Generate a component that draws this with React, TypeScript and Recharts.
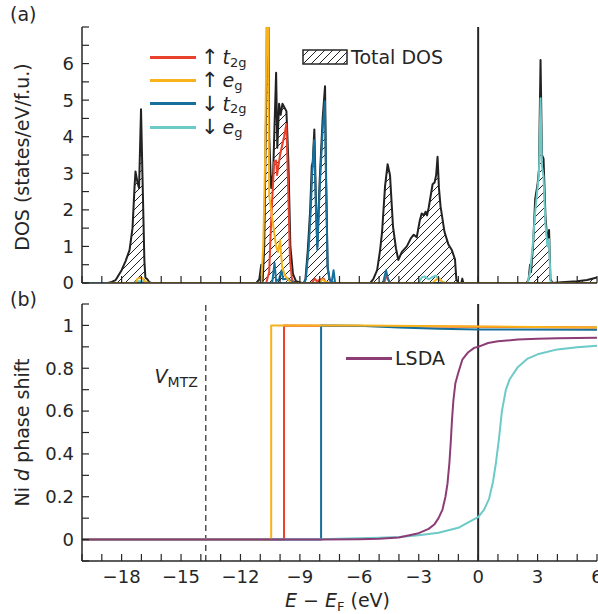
import React from "react";
import {
  ComposedChart,
  Area,
  Line,
  XAxis,
  YAxis,
  ReferenceLine,
  Legend,
} from "recharts";

// 글꼴과 색
const FONT = '"DejaVu Sans", sans-serif';
const INK = "#262626";
const RED = "#e8412c";
const YELLOW = "#f8b31a";
const BLUE = "#17709b";
const CYAN = "#6ccac8";
const PURPLE = "#8c3d76";

// 축 눈금
const E_DOMAIN: [number, number] = [-20, 6];
const eLabels = [-18, -15, -12, -9, -6, -3, 0, 3, 6];
const dosLabels = [0, 1, 2, 3, 4, 5, 6];
const shiftLabels = [0, 0.2, 0.4, 0.6, 0.8, 1];
const vMtz = -13.75;

// (a) DOS: [E - E_F, states/eV/f.u.]
const totalDos = [
  [-20, 0], [-18.7, 0], [-18.5, 0.03], [-18.3, 0.08], [-18.0, 0.35], [-17.8, 0.6],
  [-17.6, 0.9], [-17.45, 1.5], [-17.35, 2.6], [-17.3, 3.05], [-17.2, 2.75], [-17.12, 2.6],
  [-17.02, 4.75], [-16.95, 3.0], [-16.85, 0.6], [-16.8, 0.15], [-16.7, 0.1], [-16.6, 0.02],
  [-16.5, 0], [-11.2, 0], [-11.05, 0.1], [-10.95, 0.5], [-10.88, 0.05], [-10.8, 1.0],
  [-10.7, 5.0], [-10.62, 9.5], [-10.55, 4.0], [-10.45, 2.6], [-10.35, 3.0], [-10.2, 5.75],
  [-10.14, 3.7], [-10.05, 4.9], [-9.97, 4.6], [-9.88, 4.9], [-9.78, 4.8], [-9.68, 4.7],
  [-9.58, 3.3], [-9.48, 1.0], [-9.35, 0.25], [-9.2, 0.05], [-8.9, 0], [-8.8, 0],
  [-8.72, 0.1], [-8.6, 0.9], [-8.48, 2.0], [-8.4, 3.2], [-8.35, 3.3], [-8.27, 4.2],
  [-8.2, 2.5], [-8.12, 1.0], [-8.0, 2.8], [-7.85, 4.5], [-7.73, 5.38], [-7.68, 3.0],
  [-7.6, 0.45], [-7.5, 0.1], [-7.4, 0.02], [-7.2, 0], [-5.45, 0], [-5.3, 0.1],
  [-5.1, 0.35], [-4.95, 0.9], [-4.85, 1.4], [-4.7, 2.65], [-4.57, 3.25], [-4.45, 2.95],
  [-4.3, 1.55], [-4.15, 0.95], [-4.03, 0.63], [-3.85, 0.85], [-3.6, 1.0], [-3.4, 1.22],
  [-3.25, 1.32], [-3.1, 1.25], [-2.95, 1.7], [-2.85, 1.9], [-2.75, 1.85], [-2.65, 1.95],
  [-2.58, 1.85], [-2.5, 2.05], [-2.3, 2.7], [-2.2, 2.75], [-2.12, 2.95], [-2.05, 3.45],
  [-1.98, 2.6], [-1.9, 2.1], [-1.7, 1.4], [-1.5, 1.05], [-1.33, 0.9], [-1.17, 0.65],
  [-1.1, 0.1], [-1.0, 0], [-0.85, 0], [-0.8, 0.12], [-0.75, 0], [2.45, 0],
  [2.55, 0.1], [2.62, 0.5], [2.67, 0.3], [2.78, 1.1], [2.88, 2.3], [3.0, 2.7],
  [3.07, 3.1], [3.15, 6.1], [3.22, 3.5], [3.3, 3.4], [3.4, 1.8], [3.5, 1.1],
  [3.58, 1.45], [3.65, 0.1], [3.75, 0], [4.2, 0.02], [5.0, 0.05], [5.5, 0.08], [6.0, 0.15],
];

const upT2g = [
  [-20, 0], [-10.7, 0], [-10.55, 0.3], [-10.45, 1.7], [-10.3, 3.3], [-10.2, 3.35],
  [-10.15, 2.95], [-10.0, 3.5], [-9.8, 4.0], [-9.68, 4.35], [-9.6, 2.8], [-9.5, 0.65],
  [-9.4, 0.1], [-9.3, 0], [-8.4, 0], [-8.25, 0.12], [-8.15, 0.05], [-7.95, 0.1],
  [-7.8, 0.12], [-7.7, 0.03], [-7.5, 0], [-4.75, 0], [-4.62, 0.2], [-4.5, 0.05],
  [-4.4, 0], [6, 0],
];

const upEg = [
  [-18.7, 0], [-17.3, 0], [-17.2, 0.12], [-17.0, 0.15], [-16.9, 0.1], [-16.8, 0.03],
  [-16.6, 0], [-10.95, 0], [-10.85, 1.0], [-10.75, 3.5], [-10.64, 9.5], [-10.55, 2.4],
  [-10.45, 2.0], [-10.38, 1.7], [-10.2, 1.0], [-10.1, 0.85], [-10.0, 1.17], [-9.9, 0.45],
  [-9.75, 0.2], [-9.6, 0.1], [-9.45, 0], [-8.0, 0], [-7.85, 0.1], [-7.75, 0.05],
  [-7.6, 0], [-2.3, 0], [-2.1, 0.1], [-1.95, 0.12], [-1.8, 0.02], [-1.6, 0], [6, 0],
];

const downT2g = [
  [-20, 0], [-10.4, 0], [-10.28, 0.55], [-10.2, 0.05], [-10.05, 0.1], [-9.92, 0.35],
  [-9.85, 0.1], [-9.6, 0.12], [-9.45, 0.05], [-9.3, 0], [-8.8, 0], [-8.7, 0.1],
  [-8.55, 1.0], [-8.45, 2.0], [-8.38, 3.0], [-8.28, 3.9], [-8.2, 2.2], [-8.12, 0.9],
  [-8.0, 2.6], [-7.85, 4.2], [-7.74, 4.97], [-7.68, 2.8], [-7.6, 0.4], [-7.5, 0.1],
  [-7.4, 0], [-7.3, 0.35], [-7.22, 0], [-4.8, 0], [-4.65, 0.35], [-4.55, 0.1],
  [-4.45, 0], [6, 0],
];

const downEg = [
  [-20, 0], [-17.4, 0], [-17.2, 0.05], [-16.9, 0.05], [-16.7, 0], [-3.0, 0],
  [-2.85, 0.15], [-2.7, 0.18], [-2.5, 0.1], [-2.35, 0.15], [-2.15, 0.2], [-2.0, 0.12],
  [-1.85, 0.05], [-1.7, 0], [2.5, 0], [2.62, 0.3], [2.75, 1.0], [2.88, 1.95],
  [3.0, 2.6], [3.07, 3.0], [3.15, 5.05], [3.22, 3.2], [3.3, 2.9], [3.4, 1.6],
  [3.5, 1.0], [3.58, 1.2], [3.65, 0.05], [3.72, 0], [6, 0],
];

// (b) Ni d 위상 이동 (단위: π)
const upT2gShift = [[-20, 0], [-9.8, 0], [-9.8, 1.0], [6, 0.99]];
const upEgShift = [[-20, 0], [-10.45, 0], [-10.45, 1.0], [-6, 1.0], [0, 0.995], [6, 0.99]];
const downT2gShift = [
  [-20, 0], [-7.93, 0], [-7.93, 1.0], [-6, 0.998], [-4, 0.99], [-2, 0.984],
  [0, 0.981], [6, 0.98],
];
const downEgShift = [
  [-20, 0], [-8, 0.001], [-5, 0.008], [-4, 0.012], [-3, 0.02], [-2, 0.032],
  [-1, 0.055], [-0.5, 0.08], [0, 0.105], [0.3, 0.14], [0.55, 0.19], [0.75, 0.27],
  [0.9, 0.36], [1.05, 0.47], [1.2, 0.6], [1.4, 0.7], [1.6, 0.75], [2.0, 0.805],
  [2.5, 0.845], [3.0, 0.865], [4.0, 0.888], [5.0, 0.898], [6.0, 0.905],
];
const lsdaShift = [
  [-20, 0], [-8, 0], [-6, 0.002], [-5, 0.004], [-4, 0.01], [-3, 0.03],
  [-2.5, 0.05], [-2.2, 0.072], [-2.0, 0.1], [-1.8, 0.14], [-1.65, 0.2], [-1.55, 0.26],
  [-1.45, 0.36], [-1.38, 0.46], [-1.32, 0.56], [-1.25, 0.65], [-1.15, 0.73], [-1.0, 0.78],
  [-0.8, 0.84], [-0.5, 0.875], [-0.2, 0.895], [0, 0.9], [0.5, 0.918], [1, 0.926],
  [2, 0.934], [3, 0.938], [4, 0.94], [5, 0.941], [6, 0.942],
];

const pts = (rows: number[][]) => rows.map(([e, v]) => ({ e, v }));

const eTicks = Array.from({ length: 27 }, (_, i) => i - 20);
const dosTicks = Array.from({ length: 15 }, (_, i) => i / 2);
const shiftTicks = Array.from({ length: 13 }, (_, i) => (i - 1) / 10);

const minus = (v: number) => (v < 0 ? `\u2212${-v}` : `${v}`);
const fmtE = (v: number) => (eLabels.includes(v) ? minus(v) : "");
const fmtDos = (v: number) => (dosLabels.includes(v) ? `${v}` : "");
const fmtShift = (v: number) => (shiftLabels.includes(v) ? `${v}` : "");
const blank = () => "";

const tickStyle = { fontSize: 18, fill: INK, fontFamily: FONT };
const axisLine = { stroke: INK, strokeWidth: 1.5 };
const tickLine = { stroke: INK, strokeWidth: 1.2 };

const frameProps = {
  axisLine,
  tickLine,
  tickSize: -7,
  interval: 0 as const,
  allowDataOverflow: true,
};

const DosTitle = ({ viewBox }: any) => {
  const x = viewBox.x + 29;
  const y = viewBox.y + viewBox.height / 2 + 2;
  return (
    <text x={x} y={y} transform={`rotate(-90, ${x}, ${y})`} textAnchor="middle"
      fontSize={19} fill={INK} fontFamily={FONT}>
      DOS (states/eV/f.u.)
    </text>
  );
};

const ShiftTitle = ({ viewBox }: any) => {
  const x = viewBox.x + 29;
  const y = viewBox.y + viewBox.height / 2;
  return (
    <text x={x} y={y} transform={`rotate(-90, ${x}, ${y})`} textAnchor="middle"
      fontSize={19} fill={INK} fontFamily={FONT}>
      Ni <tspan fontStyle="italic">d</tspan> phase shift
    </text>
  );
};

const EnergyTitle = ({ viewBox }: any) => (
  <text x={viewBox.x + viewBox.width / 2 - 2} y={viewBox.y + 46} textAnchor="middle"
    fontSize={19} fill={INK} fontFamily={FONT}>
    <tspan fontStyle="italic">E</tspan>
    <tspan> − </tspan>
    <tspan fontStyle="italic">E</tspan>
    <tspan fontSize={13} dy={4}>F</tspan>
    <tspan dy={-4}> (eV)</tspan>
  </text>
);

const VmtzLabel = ({ viewBox }: any) => (
  <text x={viewBox.x - 8} y={viewBox.y + 79} textAnchor="end" fontSize={19}
    fill={INK} fontFamily={FONT}>
    <tspan fontStyle="italic">V</tspan>
    <tspan fontSize={14} dy={4}>MTZ</tspan>
  </text>
);

const legendRows = [
  { color: RED, arrow: "↑", sym: "t", sub: "2g" },
  { color: YELLOW, arrow: "↑", sym: "e", sub: "g" },
  { color: BLUE, arrow: "↓", sym: "t", sub: "2g" },
  { color: CYAN, arrow: "↓", sym: "e", sub: "g" },
];

const Swatch = ({ color }: { color: string }) => (
  <span style={{ display: "inline-block", width: 46, height: 3, background: color }} />
);

const DosLegend = () => (
  <div style={{ position: "relative", width: 598, height: 290, fontFamily: FONT, color: INK }}>
    {legendRows.map((r, i) => (
      <div key={i} style={{ position: "absolute", left: 150, top: 45 + i * 23.4, height: 24,
        display: "flex", alignItems: "center", fontSize: 19, whiteSpace: "nowrap" }}>
        <Swatch color={r.color} />
        <span style={{ marginLeft: 5, fontSize: 21 }}>{r.arrow}</span>
        <span style={{ marginLeft: 4, fontStyle: "italic" }}>{r.sym}</span>
        <span style={{ fontSize: 13, position: "relative", top: 5 }}>{r.sub}</span>
      </div>
    ))}
    <div style={{ position: "absolute", left: 302, top: 45, height: 24, display: "flex",
      alignItems: "center", fontSize: 19, whiteSpace: "nowrap" }}>
      <svg width={46} height={16}>
        <defs>
          <pattern id="hatchKey" patternUnits="userSpaceOnUse" width="8" height="8">
            <path d="M-2,2 l4,-4 M0,8 l8,-8 M6,10 l4,-4" stroke="#222" strokeWidth="1" />
          </pattern>
        </defs>
        <rect x={1} y={1} width={44} height={14} fill="url(#hatchKey)" stroke={INK} strokeWidth={1.5} />
      </svg>
      <span style={{ marginLeft: 3 }}>Total DOS</span>
    </div>
  </div>
);

const LsdaLegend = () => (
  <div style={{ position: "relative", width: 598, height: 324, fontFamily: FONT, color: INK }}>
    <div style={{ position: "absolute", left: 346, top: 56, height: 24, display: "flex",
      alignItems: "center", fontSize: 19 }}>
      <Swatch color={PURPLE} />
      <span style={{ marginLeft: 3 }}>LSDA</span>
    </div>
  </div>
);

const legendWrap = { left: 0, top: 0, width: 598, pointerEvents: "none" as const };

const line = (rows: number[][], color: string, key: string) => (
  <Line key={key} data={pts(rows)} dataKey="v" xAxisId="b" yAxisId="l" type="linear"
    stroke={color} strokeWidth={2} strokeLinejoin="round" dot={false} activeDot={false}
    isAnimationActive={false} />
);

const DosPanel = () => (
  <ComposedChart width={598} height={300} margin={{ top: 27, right: 1, bottom: 0, left: 0 }}>
    <defs>
      <pattern id="hatch" patternUnits="userSpaceOnUse" width="8" height="8">
        <path d="M-2,2 l4,-4 M0,8 l8,-8 M6,10 l4,-4" stroke="#222" strokeWidth="1" />
      </pattern>
    </defs>
    <XAxis xAxisId="b" dataKey="e" type="number" domain={E_DOMAIN} ticks={eTicks}
      height={17} tickFormatter={blank} {...frameProps} />
    <XAxis xAxisId="t" orientation="top" dataKey="e" type="number" domain={E_DOMAIN}
      ticks={eTicks} height={0} tickFormatter={blank} {...frameProps} />
    <YAxis yAxisId="l" type="number" domain={[0, 7]} ticks={dosTicks} width={82}
      tickMargin={15} tickFormatter={fmtDos} tick={tickStyle} label={{ content: DosTitle }}
      {...frameProps} />
    <YAxis yAxisId="r" orientation="right" type="number" domain={[0, 7]} ticks={dosTicks}
      width={0} tickFormatter={blank} {...frameProps} />
    <Area data={pts(totalDos)} dataKey="v" xAxisId="b" yAxisId="l" type="linear"
      stroke="#222" strokeWidth={2} strokeLinejoin="round" fill="url(#hatch)" fillOpacity={1}
      baseValue={0} dot={false} activeDot={false} isAnimationActive={false} />
    <ReferenceLine x={0} xAxisId="b" yAxisId="l" stroke={INK} strokeWidth={2} />
    {line(upT2g, RED, "upT2g")}
    {line(downT2g, BLUE, "downT2g")}
    {line(downEg, CYAN, "downEg")}
    {line(upEg, YELLOW, "upEg")}
    <Legend content={DosLegend} layout="horizontal" verticalAlign="middle" align="center"
      wrapperStyle={legendWrap} />
  </ComposedChart>
);

const ShiftPanel = () => (
  <ComposedChart width={598} height={324} margin={{ top: 14, right: 1, bottom: 0, left: 0 }}>
    <XAxis xAxisId="b" dataKey="e" type="number" domain={E_DOMAIN} ticks={eTicks}
      height={53} tickMargin={16} tickFormatter={fmtE} tick={tickStyle}
      label={{ content: EnergyTitle }} {...frameProps} />
    <XAxis xAxisId="t" orientation="top" dataKey="e" type="number" domain={E_DOMAIN}
      ticks={eTicks} height={0} tickFormatter={blank} {...frameProps} />
    <YAxis yAxisId="l" type="number" domain={[-0.1, 1.1]} ticks={shiftTicks} width={82}
      tickMargin={15} tickFormatter={fmtShift} tick={tickStyle}
      label={{ content: ShiftTitle }} {...frameProps} />
    <YAxis yAxisId="r" orientation="right" type="number" domain={[-0.1, 1.1]}
      ticks={shiftTicks} width={0} tickFormatter={blank} {...frameProps} />
    <ReferenceLine x={vMtz} xAxisId="b" yAxisId="l" stroke={INK} strokeWidth={1.2}
      strokeDasharray="6 4" label={{ content: VmtzLabel }} />
    <ReferenceLine x={0} xAxisId="b" yAxisId="l" stroke={INK} strokeWidth={2} />
    {line(upT2gShift, RED, "upT2g")}
    {line(downT2gShift, BLUE, "downT2g")}
    {line(upEgShift, YELLOW, "upEg")}
    {line(downEgShift, CYAN, "downEg")}
    {line(lsdaShift, PURPLE, "lsda")}
    <Legend content={LsdaLegend} layout="horizontal" verticalAlign="middle" align="center"
      wrapperStyle={legendWrap} />
  </ComposedChart>
);

const panelTag = { position: "absolute" as const, left: 10, fontSize: 19, fontFamily: FONT, color: INK };

export default function App() {
  return (
    <div style={{ position: "absolute", left: 0, top: 0, width: 598, height: 614, background: "#fff" }}>
      <div style={{ position: "absolute", left: 0, top: 0 }}>
        <DosPanel />
      </div>
      <div style={{ position: "absolute", left: 0, top: 290 }}>
        <ShiftPanel />
      </div>
      <div style={{ ...panelTag, top: 3 }}>(a)</div>
      <div style={{ ...panelTag, top: 288 }}>(b)</div>
    </div>
  );
}
